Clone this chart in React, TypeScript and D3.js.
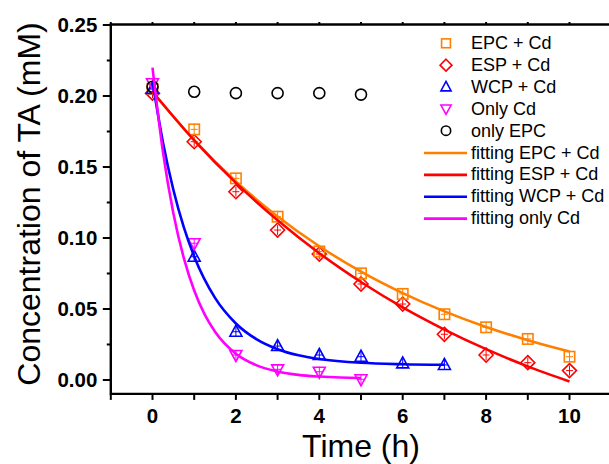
import React from "react";
import * as d3 from "d3";

// ---------- data ----------
const timeEPC = [0, 1, 2, 3, 4, 5, 6, 7, 8, 9, 10];
const epcCd = [0.205, 0.1765, 0.142, 0.115, 0.0905, 0.0751, 0.0606, 0.0463, 0.0371, 0.0289, 0.0164];
const espCd = [0.202, 0.1678, 0.1326, 0.1056, 0.0887, 0.0676, 0.0535, 0.0322, 0.0176, 0.0122, 0.0066];
const timeWCP = [0, 1, 2, 3, 4, 5, 6, 7];
const wcpCd = [0.205, 0.0868, 0.034, 0.0239, 0.0176, 0.0164, 0.0117, 0.0106];
const timeCd = [0, 1, 2, 3, 4, 5];
const onlyCd = [0.209, 0.0963, 0.0176, 0.0075, 0.0058, 0.0005];
const onlyEPC = [0.2065, 0.203, 0.202, 0.202, 0.202, 0.201];

const fitTime10 = [0, 1, 2, 3, 4, 5, 6, 7, 8, 9, 10];
const fitEPC = [0.203, 0.1689, 0.1398, 0.1152, 0.0942, 0.0763, 0.0612, 0.0483, 0.0373, 0.028, 0.02];
const fitESP = [0.203, 0.1688, 0.1388, 0.1125, 0.0893, 0.069, 0.0511, 0.0355, 0.0217, 0.0096, -0.001];
const fitTimeWCP = [0, 0.25, 0.5, 0.75, 1, 1.5, 2, 2.5, 3, 3.5, 4, 5, 6, 7];
const fitWCP = [0.21, 0.1675, 0.134, 0.1076, 0.087, 0.0578, 0.0398, 0.0286, 0.0217, 0.0174, 0.0148, 0.0121, 0.0111, 0.0107];
const fitTimeCd = [0, 0.25, 0.5, 0.75, 1, 1.25, 1.5, 2, 2.5, 3, 3.5, 4, 4.5, 5];
const fitCd = [0.22, 0.1607, 0.1175, 0.086, 0.063, 0.0462, 0.034, 0.0185, 0.0103, 0.006, 0.0036, 0.0024, 0.0017, 0.0014];

const xMajorTicks = [0, 2, 4, 6, 8, 10];
const xAllTicks = [-1, 0, 1, 2, 3, 4, 5, 6, 7, 8, 9, 10, 11];
const yMajorTicks = [0, 0.05, 0.1, 0.15, 0.2, 0.25];
const yMinorTicks = [0.025, 0.075, 0.125, 0.175, 0.225];

const legendLabels = [
  "EPC + Cd",
  "ESP + Cd",
  "WCP + Cd",
  "Only Cd",
  "only EPC",
  "fitting EPC + Cd",
  "fitting ESP + Cd",
  "fitting WCP + Cd",
  "fitting only Cd",
];

// ---------- styles ----------
const ORANGE = "#FF8000";
const RED = "#FF0000";
const BLUE = "#0000FF";
const MAGENTA = "#FF00FF";
const BLACK = "#000000";
const FONT = "'Liberation Sans', Arial, sans-serif";

type Shape = "square" | "diamond" | "up" | "down" | "circle";

function Marker({ x, y, shape, color, s = 1, cross = true }: { x: number; y: number; shape: Shape; color: string; s?: number; cross?: boolean }) {
  const sw = 1.6;
  let el: React.ReactNode = null;
  if (shape === "square") {
    const h = 5.2 * s;
    el = <rect x={x - h} y={y - h} width={2 * h} height={2 * h} fill="none" stroke={color} strokeWidth={sw} />;
  } else if (shape === "diamond") {
    const h = 7 * s;
    el = <path d={`M${x},${y - h}L${x + h},${y}L${x},${y + h}L${x - h},${y}Z`} fill="none" stroke={color} strokeWidth={sw} />;
  } else if (shape === "up") {
    const w = 6 * s;
    el = <path d={`M${x},${y - 6.5 * s}L${x + w},${y + 4.5 * s}L${x - w},${y + 4.5 * s}Z`} fill="none" stroke={color} strokeWidth={sw} />;
  } else if (shape === "down") {
    const w = 6 * s;
    el = <path d={`M${x},${y + 6.5 * s}L${x + w},${y - 4.5 * s}L${x - w},${y - 4.5 * s}Z`} fill="none" stroke={color} strokeWidth={sw} />;
  } else {
    el = <circle cx={x} cy={y} r={5.5 * s} fill="none" stroke={color} strokeWidth={sw} />;
  }
  return (
    <g>
      {el}
      {cross && shape !== "circle" && (
        <g stroke={color} strokeWidth={1}>
          <line x1={x} x2={x} y1={y - 5} y2={y + 5} />
          <line x1={x - 3.5} x2={x + 3.5} y1={y} y2={y} />
        </g>
      )}
    </g>
  );
}

export default function App() {
  const W = 609;
  const H = 464;
  const x = d3.scaleLinear().domain([-1, 11]).range([110.8, 611.2]);
  const y = d3.scaleLinear().domain([-0.0098, 0.25]).range([393.9, 25]);
  const left = x(-1);
  const right = x(11);
  const top = y(0.25) - 0.5;
  const bottom = y(-0.0098);

  const line = d3
    .line<[number, number]>()
    .x((d) => x(d[0]))
    .y((d) => y(d[1]))
    .curve(d3.curveMonotoneX);

  const zip = (t: number[], v: number[]) => t.map((tt, i) => [tt, v[i]] as [number, number]);

  const scatter: { t: number[]; v: number[]; shape: Shape; color: string }[] = [
    { t: timeEPC, v: espCd, shape: "diamond", color: RED },
    { t: timeEPC, v: epcCd, shape: "square", color: ORANGE },
    { t: timeWCP, v: wcpCd, shape: "up", color: BLUE },
    { t: timeCd, v: onlyCd, shape: "down", color: MAGENTA },
    { t: timeCd, v: onlyEPC, shape: "circle", color: BLACK },
  ];
  const fits = [
    { d: zip(fitTime10, fitEPC), color: ORANGE },
    { d: zip(fitTime10, fitESP), color: RED },
    { d: zip(fitTimeWCP, fitWCP), color: BLUE },
    { d: zip(fitTimeCd, fitCd), color: MAGENTA },
  ];

  const legendShapes: (Shape | null)[] = ["square", "diamond", "up", "down", "circle", null, null, null, null];
  const legendColors = [ORANGE, RED, BLUE, MAGENTA, BLACK, ORANGE, RED, BLUE, MAGENTA];

  return (
    <svg width={W} height={H} style={{ position: "absolute", left: 0, top: 0, background: "#fff" }} fontFamily={FONT}>
      <rect x={0} y={0} width={W} height={H} fill="#fff" />
      {/* markers */}
      {scatter.map((s, si) =>
        s.t.map((t, i) => <Marker key={`${si}-${i}`} x={x(t)} y={y(s.v[i])} shape={s.shape} color={s.color} />)
      )}
      {/* fits */}
      {fits.map((f, i) => (
        <path key={i} d={line(f.d) || ""} fill="none" stroke={f.color} strokeWidth={2.6} />
      ))}

      {/* frame */}
      <g stroke={BLACK} strokeWidth={2.4} fill="none">
        <line x1={left} x2={right} y1={top} y2={top} />
        <line x1={left} x2={right} y1={bottom} y2={bottom} />
        <line x1={left} x2={left} y1={top - 1.2} y2={bottom + 1.2} />
      </g>
      {/* ticks */}
      <g stroke={BLACK} strokeWidth={2}>
        {xAllTicks.map((t) => (
          <line key={`xb${t}`} x1={x(t)} x2={x(t)} y1={bottom} y2={bottom + 6} />
        ))}
        {xAllTicks.map((t) => (
          <line key={`xt${t}`} x1={x(t)} x2={x(t)} y1={top} y2={top - 2.5} />
        ))}
        {yMajorTicks.map((v) => (
          <line key={`ym${v}`} x1={left - 8} x2={left} y1={y(v)} y2={y(v)} />
        ))}
        {yMinorTicks.map((v) => (
          <line key={`yn${v}`} x1={left - 4} x2={left} y1={y(v)} y2={y(v)} />
        ))}
      </g>
      {/* tick labels */}
      <g fontSize={20.5} fontWeight="bold" fill={BLACK}>
        {xMajorTicks.map((t) => (
          <text key={t} x={x(t)} y={423} textAnchor="middle">
            {t}
          </text>
        ))}
        {yMajorTicks.map((v) => (
          <text key={v} x={left - 13.5} y={y(v) + 7} textAnchor="end">
            {d3.format(".2f")(v)}
          </text>
        ))}
      </g>
      {/* titles */}
      <text x={361} y={457} textAnchor="middle" fontSize={32} fill={BLACK}>
        Time (h)
      </text>
      <text transform={`translate(40,204) rotate(-90)`} textAnchor="middle" fontSize={32} fill={BLACK}>
        Concentration of TA (mM)
      </text>

      {/* legend */}
      <g fontSize={18} fill={BLACK}>
        {legendLabels.map((lab, i) => {
          const by = 49.3 + i * 21.85;
          const cy = by - 6;
          const sh = legendShapes[i];
          return (
            <g key={lab}>
              {sh ? (
                <Marker x={446} y={cy} shape={sh} color={legendColors[i]} s={0.85} cross={false} />
              ) : (
                <line x1={424} x2={467} y1={cy + 0.5} y2={cy + 0.5} stroke={legendColors[i]} strokeWidth={2.6} />
              )}
              <text x={471} y={by}>
                {lab}
              </text>
            </g>
          );
        })}
      </g>
    </svg>
  );
}
